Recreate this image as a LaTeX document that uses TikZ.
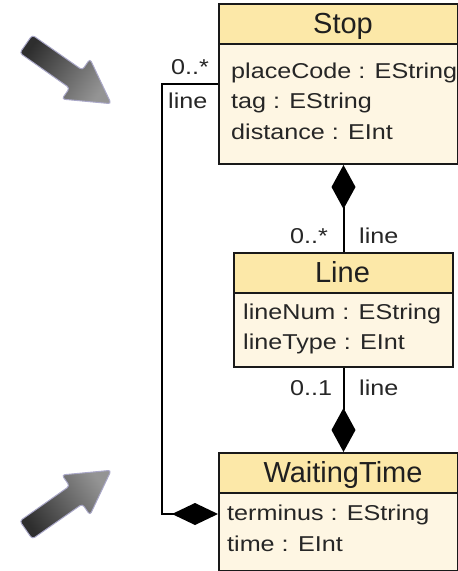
\documentclass[tikz,border=0pt]{standalone}
\usepackage{fontspec}
\setmainfont{Liberation Sans}
\newfontfamily\attrfont{Liberation Sans}[FakeStretch=1.17]
\usetikzlibrary{arrows.meta}
\definecolor{headfill}{RGB}{252,232,168}
\definecolor{bodyfill}{RGB}{254,246,227}
\definecolor{edgecol}{RGB}{25,25,25}
\definecolor{halo}{RGB}{170,168,200}
\begin{document}
\begin{tikzpicture}[x=1pt,y=1pt,
  classbox/.style={draw=edgecol, line width=2pt, fill=bodyfill, rectangle, inner sep=0pt, anchor=north west},
  headbox/.style={draw=edgecol, line width=2pt, fill=headfill, rectangle, inner sep=0pt, anchor=north west, minimum height=40pt},
  title/.style={inner sep=0pt, anchor=base, font=\fontsize{29}{34}\selectfont, text=black!88},
  attr/.style={inner sep=0pt, anchor=base west, font=\attrfont\fontsize{21.5}{26}\selectfont, text=black!85},
  conn/.style={line width=2pt, draw=black},
  bigarrow/.style={draw=halo, line width=1pt, rounded corners=3pt}
]
\useasboundingbox (0,0) rectangle (458,-571);

% pointer arrows
\shadedraw[bigarrow, top color=black!82, bottom color=black!42, shading angle=55]
  (32.3,-35) -- (82.3,-70) -- (90,-58.9) -- (111.2,-103.7) -- (61.9,-99.1) -- (69.6,-88) -- (19.7,-53) -- cycle;
\shadedraw[bigarrow, top color=black!82, bottom color=black!42, shading angle=125]
  (32.3,-539) -- (82.3,-504) -- (90,-515.1) -- (111.2,-470.3) -- (61.9,-474.9) -- (69.6,-486) -- (19.7,-521) -- cycle;

% Stop
\node[classbox, minimum width=239pt, minimum height=160pt] (stop) at (218,-3) {};
\node[headbox, minimum width=239pt] (stopH) at (218,-3) {};
\node[title] (stopT) at (343,-33) {Stop};
\node[attr] (stopA1) at (231,-78) {placeCode : EString};
\node[attr] (stopA2) at (231,-108.5) {tag : EString};
\node[attr] (stopA3) at (231,-139) {distance : EInt};

% Line
\node[classbox, minimum width=219pt, minimum height=114pt] (line) at (233,-252) {};
\node[headbox, minimum width=219pt] (lineH) at (233,-252) {};
\node[title] (lineT) at (342.5,-282) {Line};
\node[attr] (lineA1) at (243,-319) {lineNum : EString};
\node[attr] (lineA2) at (243,-349.5) {lineType : EInt};

% WaitingTime
\node[classbox, minimum width=239pt, minimum height=118pt] (wait) at (218,-452) {};
\node[headbox, minimum width=239pt] (waitH) at (218,-452) {};
\node[title] (waitT) at (343,-482) {WaitingTime};
\node[attr] (waitA1) at (227,-520) {terminus : EString};
\node[attr] (waitA2) at (227,-551) {time : EInt};

% connectors
\draw[conn, {Diamond[length=44pt,width=24pt]}-] (line.north |- stop.south) -- (line.north);
\draw[conn, -{Diamond[length=44pt,width=24pt]}] (line.south) -- (line.south |- wait.north);
\draw[conn, -{Diamond[length=46pt,width=22pt]}] (stop.west) -- ++(-56,0) |- ([yshift=-2pt]wait.west);

% multiplicities and role names
\node[attr] (m1) at (171,-74) {0..*};
\node[attr] (r1) at (168,-108) {line};
\node[attr] (m2) at (290,-243) {0..*};
\node[attr] (r2) at (359,-243) {line};
\node[attr] (m3) at (290,-395) {0..1};
\node[attr] (r3) at (359,-395) {line};
\end{tikzpicture}
\end{document}
